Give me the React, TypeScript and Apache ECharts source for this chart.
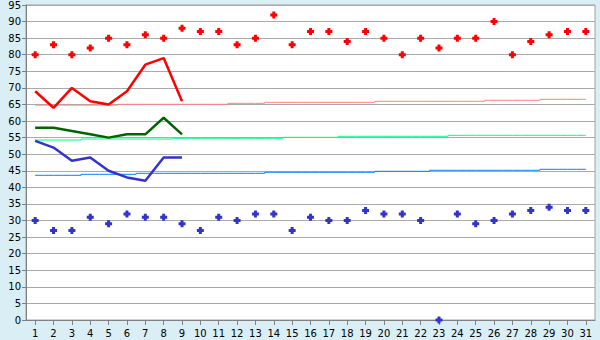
import React, { useEffect, useRef } from "react";
import * as echarts from "echarts";

const days = Array.from({ length: 31 }, (_, i) => String(i + 1));
const yTicksMin = 0;
const yTicksMax = 95;
const yTickStep = 5;

const redPoints = [80, 83, 80, 82, 85, 83, 86, 85, 88, 87, 87, 83, 85, 92, 83, 87, 87, 84, 87, 85, 80, 85, 82, 85, 85, 90, 80, 84, 86, 87, 87];
const bluePoints = [30, 27, 27, 31, 29, 32, 31, 31, 29, 27, 31, 30, 32, 32, 27, 31, 30, 30, 33, 32, 32, 30, 0, 32, 29, 30, 32, 33, 34, 33, 33];

const redLine = [69, 64, 70, 66, 65, 69, 77, 79, 66];
const greenLine = [58, 58, 57, 56, 55, 56, 56, 61, 56];
const blueLine = [54, 52, 48, 49, 45, 43, 42, 49, 49];

const pinkStep = [64.8, 64.8, 64.8, 64.8, 64.8, 65.05, 65.05, 65.05, 65.05, 65.05, 65.05, 65.35, 65.35, 65.65, 65.65, 65.65, 65.65, 65.65, 65.65, 65.96, 65.96, 65.96, 65.96, 65.96, 65.96, 66.26, 66.26, 66.26, 66.56, 66.56, 66.56];
const greenStep = [54.28, 54.28, 54.28, 54.58, 54.58, 54.58, 54.58, 54.58, 54.8, 54.8, 54.8, 54.8, 54.8, 54.8, 55.1, 55.1, 55.1, 55.4, 55.4, 55.4, 55.4, 55.4, 55.4, 55.7, 55.7, 55.7, 55.7, 55.7, 55.7, 55.7, 55.7];
const blueStep = [43.64, 43.64, 43.64, 43.94, 43.94, 43.94, 44.24, 44.24, 44.24, 44.24, 44.24, 44.24, 44.24, 44.55, 44.55, 44.55, 44.55, 44.55, 44.55, 44.85, 44.85, 44.85, 45.15, 45.15, 45.15, 45.15, 45.15, 45.15, 45.45, 45.45, 45.45];

const pad = (arr: number[]) => days.map((_, i) => (i < arr.length ? arr[i] : null));

const markerPath = "path://M2,0 H5 V2 H7 V5 H5 V7 H2 V5 H0 V2 H2 Z";

export default function App() {
  const ref = useRef<HTMLDivElement>(null);
  useEffect(() => {
    if (!ref.current) return;
    const chart = echarts.init(ref.current, null, { renderer: "svg" });
    const font = "DejaVu Sans";
    const stepSeries = (data: number[], color: string) => ({
      type: "line",
      data,
      step: "middle",
      showSymbol: false,
      symbol: "none",
      lineStyle: { color, width: 1 },
      z: 2,
    });
    const thickSeries = (data: number[], color: string) => ({
      type: "line",
      data: pad(data),
      showSymbol: false,
      symbol: "none",
      lineStyle: { color, width: 2.5 },
      z: 3,
    });
    const pointSeries = (data: number[], color: string) => ({
      type: "scatter",
      data,
      symbol: markerPath,
      symbolSize: 7,
      itemStyle: { color, opacity: 1 },
      clip: false,
      z: 4,
    });
    chart.setOption({
      animation: false,
      backgroundColor: "#daeef5",
      grid: {
        left: 26,
        right: 5,
        top: 5,
        bottom: 20,
        show: true,
        backgroundColor: "#ffffff",
        borderColor: "#a0a0a0",
        borderWidth: 1,
      },
      xAxis: {
        type: "category",
        data: days,
        boundaryGap: true,
        axisLine: { lineStyle: { color: "#808080", width: 1 } },
        axisTick: { show: true, alignWithLabel: true, length: 5, lineStyle: { color: "#808080" } },
        axisLabel: { interval: 0, color: "#000", fontFamily: font, fontSize: 10, margin: 8 },
        splitLine: { show: false },
      },
      yAxis: {
        type: "value",
        min: yTicksMin,
        max: yTicksMax,
        interval: yTickStep,
        axisLine: { show: true, lineStyle: { color: "#808080", width: 1 } },
        axisTick: { show: true, length: 4, lineStyle: { color: "#808080" } },
        axisLabel: { color: "#000", fontFamily: font, fontSize: 10, margin: 5 },
        splitLine: { show: true, lineStyle: { color: "#aaaaaa", width: 1 } },
      },
      series: [
        stepSeries(pinkStep, "#ff8080"),
        stepSeries(greenStep, "#00ff80"),
        stepSeries(blueStep, "#0080ff"),
        thickSeries(redLine, "#ff0000"),
        thickSeries(greenLine, "#006400"),
        thickSeries(blueLine, "#3333cc"),
        pointSeries(redPoints, "#ff0000"),
        pointSeries(bluePoints, "#3333cc"),
      ],
    });
    return () => chart.dispose();
  }, []);
  return (
    <div
      ref={ref}
      style={{ position: "fixed", left: 0, top: 0, width: 600, height: 340 }}
    />
  );
}
